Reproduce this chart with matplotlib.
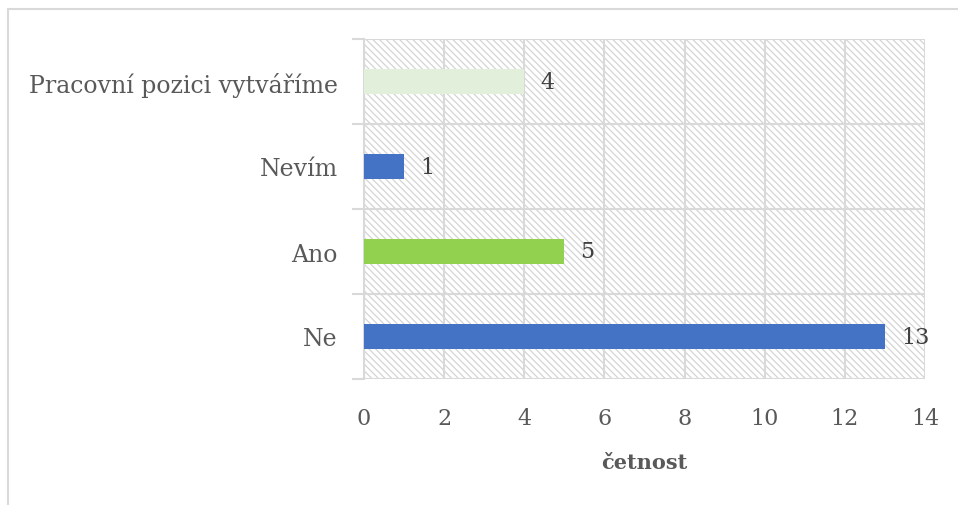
import matplotlib.pyplot as plt
from matplotlib.patches import Rectangle

# data (bottom to top)
categories = ['Ne', 'Ano', 'Nevím', 'Pracovní pozici vytváříme']
counts = [13, 5, 1, 4]
colors = ['#4472C4', '#92D050', '#4472C4', '#E2EFDA']
xticks = [0, 2, 4, 6, 8, 10, 12, 14]

plt.rcParams['font.family'] = ['DejaVu Serif']
plt.rcParams['hatch.linewidth'] = 0.9

fig = plt.figure(figsize=(9.58, 5.06), dpi=100)
ax = fig.add_axes([364 / 958, 1 - 380 / 506, (925 - 364) / 958, (380 - 40) / 506])

# outer frame of the chart
fig.patches.append(Rectangle((8 / 958, -0.1), 1.2, 1 - 10 / 506 + 0.1,
                             transform=fig.transFigure, fill=False,
                             edgecolor='#D9D9D9', lw=1.5))

# hatched plot background
ax.add_patch(Rectangle((0, 0), 1, 1, transform=ax.transAxes, facecolor='white',
                       edgecolor='#D4D4D4', hatch='\\' * 5, lw=0, zorder=0))

y = list(range(len(categories)))
ax.barh(y, counts, height=0.3, color=colors, zorder=3)
for yi, v in zip(y, counts):
    ax.text(v + 0.4, yi, str(v), va='center', ha='left', fontsize=16, color='#404040', zorder=4)

ax.set_xlim(0, 14)
ax.set_ylim(-0.5, len(categories) - 0.5)
ax.set_xticks(xticks)
ax.set_yticks(y)
ax.set_yticklabels(categories)
ax.set_yticks([i - 0.5 for i in range(len(categories) + 1)], minor=True)

ax.grid(axis='x', color='#D9D9D9', lw=1.5, zorder=1)
ax.grid(axis='y', which='minor', color='#D9D9D9', lw=1.5, zorder=1)
ax.tick_params(axis='y', which='major', length=0, pad=19, labelsize=17, labelcolor='#595959')
ax.tick_params(axis='y', which='minor', length=9, width=1.5, color='#D9D9D9')
ax.tick_params(axis='x', length=0, pad=20, labelsize=16, labelcolor='#595959')

for s in ['top', 'right', 'bottom']:
    ax.spines[s].set_visible(False)
ax.spines['left'].set_color('#D9D9D9')
ax.spines['left'].set_linewidth(1.5)

ax.set_xlabel('četnost', fontsize=15, fontweight='bold', color='#595959', labelpad=17)

fig.savefig('out.png', dpi=100)
